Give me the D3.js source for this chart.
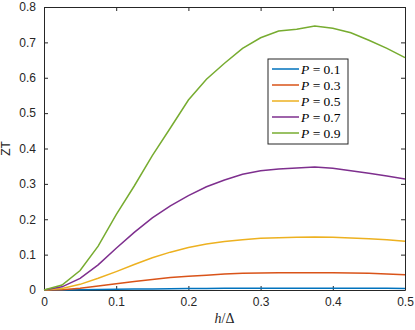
<!DOCTYPE html>
<html>
<head>
<meta charset="utf-8">
<script src="https://cdn.jsdelivr.net/npm/d3@7"></script>
<style>
  body { margin: 0; background: #fff; }
  svg { display: block; }
  .tick text { font-family: "Liberation Sans", Arial, sans-serif; font-size: 12px; fill: #262626; }
</style>
</head>
<body>
<div id="chart"></div>
<script>
var hOverDelta = [0, 0.025, 0.05, 0.075, 0.1, 0.125, 0.15, 0.175, 0.2, 0.225, 0.25,
                  0.275, 0.3, 0.325, 0.35, 0.375, 0.4, 0.425, 0.45, 0.475, 0.5];
var zt01 = [0, 0.0003, 0.0008, 0.0013, 0.0019, 0.0025, 0.003, 0.0035, 0.004, 0.0043, 0.0046,
            0.0048, 0.0049, 0.005, 0.005, 0.005, 0.005, 0.0049, 0.0048, 0.0046, 0.0044];
var zt03 = [0, 0.001, 0.005, 0.011, 0.018, 0.024, 0.030, 0.035, 0.039, 0.042, 0.045,
            0.047, 0.048, 0.049, 0.049, 0.049, 0.049, 0.048, 0.047, 0.045, 0.043];
var zt05 = [0, 0.004, 0.016, 0.033, 0.052, 0.072, 0.091, 0.107, 0.120, 0.130, 0.137,
            0.142, 0.146, 0.148, 0.149, 0.150, 0.149, 0.147, 0.145, 0.142, 0.138];
var zt07 = [0, 0.009, 0.033, 0.071, 0.118, 0.163, 0.204, 0.238, 0.267, 0.292, 0.311,
            0.327, 0.337, 0.342, 0.345, 0.348, 0.344, 0.337, 0.330, 0.322, 0.314];
var zt09 = [0, 0.014, 0.055, 0.124, 0.213, 0.294, 0.380, 0.458, 0.537, 0.596, 0.641,
            0.683, 0.713, 0.732, 0.737, 0.746, 0.740, 0.727, 0.706, 0.683, 0.657];
var pValues = ["0.1", "0.3", "0.5", "0.7", "0.9"];
var xTicks = [0, 0.1, 0.2, 0.3, 0.4, 0.5];
var yTicks = [0, 0.1, 0.2, 0.3, 0.4, 0.5, 0.6, 0.7, 0.8];
var colors = ["#0072BD", "#D95319", "#EDB120", "#7E2F8E", "#77AC30"];

var allSeries = [zt01, zt03, zt05, zt07, zt09];

var margin = {top: 7, right: 10, bottom: 40, left: 44},
    width = 415 - margin.left - margin.right,
    height = 330 - margin.top - margin.bottom;

var svg = d3.select("#chart")
  .append("svg")
    .attr("width", 415)
    .attr("height", 330)
  .append("g")
    .attr("transform", "translate(" + margin.left + "," + margin.top + ")");

var x = d3.scaleLinear().domain([0, 0.5]).range([0, width]);
var y = d3.scaleLinear().domain([0, 0.8]).range([height, 0]);

var fmt = function(d) { return d === 0 ? "0" : d3.format(".1f")(d); };

// axes, ticks pointing inward like matlab
var xAxis = svg.append("g")
  .attr("transform", "translate(0," + height + ")")
  .call(d3.axisBottom(x).tickValues(xTicks).tickFormat(fmt).tickSizeInner(-4).tickSizeOuter(0).tickPadding(7));
svg.append("g")
  .call(d3.axisTop(x).tickValues(xTicks).tickFormat("").tickSizeInner(-4).tickSizeOuter(0));
svg.append("g")
  .call(d3.axisLeft(y).tickValues(yTicks).tickFormat(fmt).tickSizeInner(-4).tickSizeOuter(0).tickPadding(8));
svg.append("g")
  .attr("transform", "translate(" + width + ",0)")
  .call(d3.axisRight(y).tickValues(yTicks).tickFormat("").tickSizeInner(-4).tickSizeOuter(0));

svg.selectAll(".domain").attr("stroke", "#262626").attr("stroke-width", 1);
svg.selectAll(".tick line").attr("stroke", "#262626");
xAxis.selectAll(".tick text").attr("dy", "0.71em");

// lines
var line = d3.line()
  .x(function(d, i) { return x(hOverDelta[i]); })
  .y(function(d) { return y(d); });

svg.selectAll(".series")
  .data(allSeries)
  .enter().append("path")
    .attr("fill", "none")
    .attr("stroke", function(d, i) { return colors[i]; })
    .attr("stroke-width", 1.5)
    .attr("d", line);

// axis labels
svg.append("text")
  .attr("transform", "translate(" + (-34) + "," + (height / 2) + ") rotate(-90)")
  .attr("text-anchor", "middle")
  .style("font-family", "Liberation Sans, Arial, sans-serif")
  .style("font-size", "12px")
  .attr("fill", "#262626")
  .text("ZT");

var xl = svg.append("text")
  .attr("x", width / 2)
  .attr("y", height + 33)
  .attr("text-anchor", "middle")
  .style("font-family", "Liberation Serif, serif")
  .style("font-size", "14px")
  .attr("fill", "#262626");
xl.append("tspan").style("font-style", "italic").text("h");
xl.append("tspan").text("/Δ");

// legend
var lg = svg.append("g")
  .attr("transform", "translate(" + (268 - margin.left) + "," + (59 - margin.top) + ")");
lg.append("rect")
  .attr("width", 80)
  .attr("height", 85)
  .attr("fill", "#fff")
  .attr("stroke", "#262626")
  .attr("stroke-width", 1);

var rows = lg.selectAll(".row")
  .data(pValues)
  .enter().append("g")
    .attr("transform", function(d, i) { return "translate(0," + (10 + i * 16) + ")"; });
rows.append("line")
  .attr("x1", 4).attr("x2", 31)
  .attr("stroke", function(d, i) { return colors[i]; })
  .attr("stroke-width", 1.5);
var rt = rows.append("text")
  .attr("x", 33)
  .attr("y", 4.5)
  .style("font-family", "Liberation Serif, serif")
  .style("font-size", "13.5px")
  .attr("fill", "#000");
rt.append("tspan").style("font-style", "italic").text("P");
rt.append("tspan").text(function(d) { return " = " + d; });
</script>
</body>
</html>
